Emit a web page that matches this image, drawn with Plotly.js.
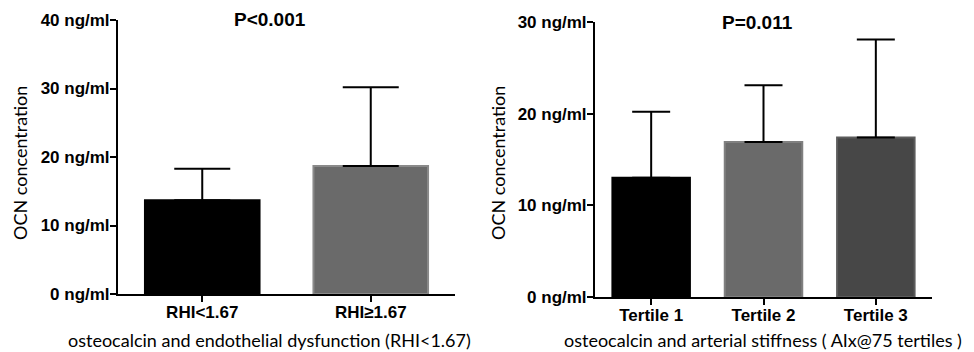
<!DOCTYPE html>
<html>
<head>
<meta charset="utf-8">
<script src="https://cdn.plot.ly/plotly-3.0.1.min.js"></script>
<style>html,body{margin:0;padding:0;background:#fff;}#chart{width:974px;height:352px;}</style>
</head>
<body>
<div id="chart"></div>
<script>
// Left panel: endothelial dysfunction
const leftCats = ['RHI<1.67', 'RHI≥1.67'];
const leftMeans = [13.7, 18.7];
const leftSD = [4.6, 11.5];
const leftTickVals = [0, 10, 20, 30, 40];
const leftTickText = ['0 ng/ml', '10 ng/ml', '20 ng/ml', '30 ng/ml', '40 ng/ml'];
const leftP = 'P<0.001';
const leftXTitle = 'osteocalcin and endothelial dysfunction (RHI<1.67)';

// Right panel: arterial stiffness tertiles
const rightCats = ['Tertile 1', 'Tertile 2', 'Tertile 3'];
const rightMeans = [13.0, 16.9, 17.4];
const rightSD = [7.2, 6.2, 10.7];
const rightTickVals = [0, 10, 20, 30];
const rightTickText = ['0 ng/ml', '10 ng/ml', '20 ng/ml', '30 ng/ml'];
const rightP = 'P=0.011';
const rightXTitle = 'osteocalcin and arterial stiffness ( AIx@75 tertiles )';

const yTitle = 'OCN concentration';

const tickFont = {family: 'Liberation Sans, Arial, sans-serif', size: 17, color: '#000', weight: 'bold'};
const titleFont = {family: 'Lato, Open Sans, sans-serif', size: 18, color: '#000'};

const traces = [
  {
    type: 'bar', x: leftCats, y: leftMeans, xaxis: 'x', yaxis: 'y',
    width: 0.68,
    marker: {color: ['#000000', '#6a6a6a'], line: {color: ['#000000', '#8a8a8a'], width: 2}},
    error_y: {type: 'data', symmetric: false, array: leftSD, arrayminus: leftSD.map(() => 0),
              color: '#000', thickness: 2, width: 28},
    showlegend: false, hoverinfo: 'skip'
  },
  {
    type: 'bar', x: rightCats, y: rightMeans, xaxis: 'x2', yaxis: 'y2',
    width: 0.69,
    marker: {color: ['#000000', '#6a6a6a', '#474747'], line: {color: ['#000000', '#808080', '#5c5c5c'], width: 2}},
    error_y: {type: 'data', symmetric: false, array: rightSD, arrayminus: rightSD.map(() => 0),
              color: '#000', thickness: 2, width: 19},
    showlegend: false, hoverinfo: 'skip'
  }
];

const axisCommon = {
  showline: true, linecolor: '#000', linewidth: 2, showgrid: false, zeroline: false,
  ticks: 'outside', ticklen: 6, tickwidth: 2, tickcolor: '#000', tickfont: tickFont,
  automargin: false, fixedrange: true
};

const layout = {
  width: 974, height: 352,
  margin: {l: 0, r: 0, t: 0, b: 0},
  paper_bgcolor: '#fff', plot_bgcolor: '#fff',
  bargap: 0.3,
  xaxis: Object.assign({}, axisCommon, {domain: [118/974, 455/974], range: [-0.5, 1.5], anchor: 'y', type: 'category', ticklabelstandoff: -4}),
  yaxis: Object.assign({}, axisCommon, {domain: [1 - 294/352, 1 - 20/352], range: [0, 40], anchor: 'x',
          tickmode: 'array', tickvals: leftTickVals, ticktext: leftTickText, ticklabelstandoff: -3}),
  xaxis2: Object.assign({}, axisCommon, {domain: [595/974, 932/974], range: [-0.5, 2.5], anchor: 'y2', type: 'category', ticklabelstandoff: -4}),
  yaxis2: Object.assign({}, axisCommon, {domain: [1 - 297/352, 1 - 22/352], range: [0, 30], anchor: 'x2',
          tickmode: 'array', tickvals: rightTickVals, ticktext: rightTickText, ticklabelstandoff: -3}),
  annotations: [
    {text: leftP, xref: 'paper', yref: 'paper', x: 270/974, y: 1 - 20/352, xanchor: 'center', yanchor: 'middle',
     showarrow: false, font: {family: 'Liberation Sans, Arial, sans-serif', size: 19, weight: 'bold', color: '#000'}},
    {text: rightP, xref: 'paper', yref: 'paper', x: 757/974, y: 1 - 22/352, xanchor: 'center', yanchor: 'middle',
     showarrow: false, font: {family: 'Liberation Sans, Arial, sans-serif', size: 19, weight: 'bold', color: '#000'}},
    {text: leftXTitle, xref: 'paper', yref: 'paper', x: 269/974, y: 1 - 340/352, xanchor: 'center', yanchor: 'middle',
     showarrow: false, font: titleFont},
    {text: rightXTitle, xref: 'paper', yref: 'paper', x: 763/974, y: 1 - 340/352, xanchor: 'center', yanchor: 'middle',
     showarrow: false, font: titleFont},
    {text: yTitle, xref: 'paper', yref: 'paper', x: 20/974, y: 1 - 163/352, xanchor: 'center', yanchor: 'middle',
     textangle: -90, showarrow: false, font: titleFont},
    {text: yTitle, xref: 'paper', yref: 'paper', x: 498/974, y: 1 - 163/352, xanchor: 'center', yanchor: 'middle',
     textangle: -90, showarrow: false, font: titleFont}
  ]
};

Plotly.newPlot('chart', traces, layout, {staticPlot: true, displayModeBar: false});
</script>
</body>
</html>
